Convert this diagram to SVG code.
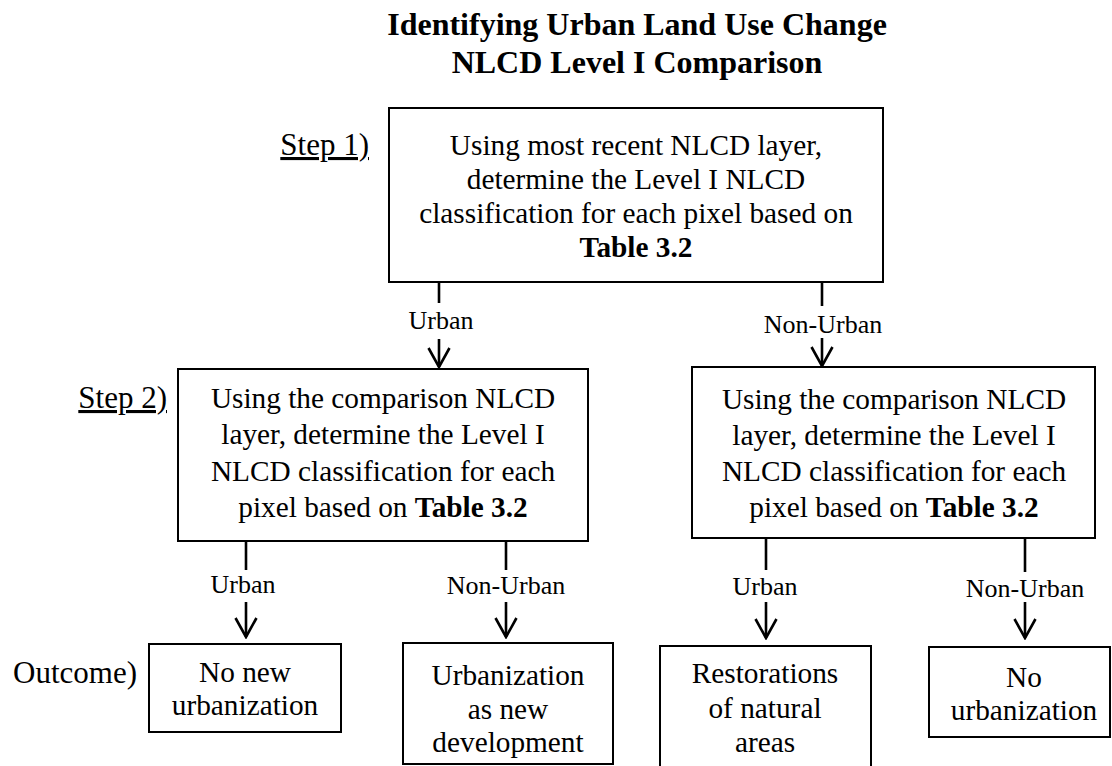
<svg xmlns="http://www.w3.org/2000/svg" width="1112" height="766" viewBox="0 0 1112 766">
  <style>
    text { font-family: "Liberation Serif", "Times New Roman", serif; fill: #000; }
    .title { font-size: 32px; font-weight: bold; text-anchor: middle; }
    .body { font-size: 29.3px; text-anchor: middle; }
    .step { font-size: 31px; }
    .lbl { font-size: 26px; text-anchor: middle; }
    .box { fill: #fff; stroke: #000; stroke-width: 2; }
    .wire { fill: none; stroke: #000; stroke-width: 2.6; }
    b, .b { font-weight: bold; }
  </style>
  <defs>
    <marker id="vhead" markerUnits="userSpaceOnUse" viewBox="-22 -13 24 26" markerWidth="24" markerHeight="26" refX="0" refY="0" orient="auto">
      <path d="M-19,-10.5 L0,0 L-19,10.5" fill="none" stroke="#000" stroke-width="2.6" stroke-linejoin="miter"/>
    </marker>
  </defs>

  <rect width="1112" height="766" fill="#fff"/>

  <g id="title">
    <text class="title" x="637" y="35">Identifying Urban Land Use Change</text>
    <text class="title" x="637" y="73">NLCD Level I Comparison</text>
  </g>

  <g id="step-labels">
    <text class="step" x="369" y="155" text-anchor="end" text-decoration="underline">Step 1)</text>
    <text class="step" x="167" y="408" text-anchor="end" text-decoration="underline">Step 2)</text>
    <text class="step" x="137" y="683" text-anchor="end">Outcome)</text>
  </g>

  <g id="step1">
    <rect class="box" x="389" y="108" width="494" height="174"/>
    <text class="body" x="636" y="155">Using most recent NLCD layer,</text>
    <text class="body" x="636" y="189">determine the Level I NLCD</text>
    <text class="body" x="636" y="223">classification for each pixel based on</text>
    <text class="body b" x="636" y="257">Table 3.2</text>
  </g>

  <g id="step2-urban">
    <rect class="box" x="178" y="369" width="410" height="172"/>
    <text class="body" x="383" y="408">Using the comparison NLCD</text>
    <text class="body" x="383" y="444">layer, determine the Level I</text>
    <text class="body" x="383" y="481">NLCD classification for each</text>
    <text class="body" x="383" y="517">pixel based on <tspan class="b">Table 3.2</tspan></text>
  </g>

  <g id="step2-nonurban">
    <rect class="box" x="692" y="367" width="403" height="171"/>
    <text class="body" x="894" y="409">Using the comparison NLCD</text>
    <text class="body" x="894" y="445">layer, determine the Level I</text>
    <text class="body" x="894" y="481">NLCD classification for each</text>
    <text class="body" x="894" y="517">pixel based on <tspan class="b">Table 3.2</tspan></text>
  </g>

  <g id="outcome-no-new">
    <rect class="box" x="149" y="644" width="192" height="88"/>
    <text class="body" x="245" y="682">No new</text>
    <text class="body" x="245" y="715">urbanization</text>
  </g>

  <g id="outcome-new-development">
    <rect class="box" x="403" y="643" width="210" height="121"/>
    <text class="body" x="508" y="685">Urbanization</text>
    <text class="body" x="508" y="719">as new</text>
    <text class="body" x="508" y="752">development</text>
  </g>

  <g id="outcome-restoration">
    <rect class="box" x="660" y="646" width="211" height="130"/>
    <text class="body" x="765" y="683">Restorations</text>
    <text class="body" x="765" y="718">of natural</text>
    <text class="body" x="765" y="752">areas</text>
  </g>

  <g id="outcome-no-urbanization">
    <rect class="box" x="929" y="647" width="181" height="90"/>
    <text class="body" x="1024" y="687">No</text>
    <text class="body" x="1024" y="720">urbanization</text>
  </g>

  <g id="connectors">
    <!-- step 1 to step 2 -->
    <path class="wire" d="M439,282 V303"/>
    <path class="wire" d="M439,339 V367" marker-end="url(#vhead)"/>
    <text class="lbl" x="441" y="329">Urban</text>
    <path class="wire" d="M822,282 V306"/>
    <path class="wire" d="M822,338 V366" marker-end="url(#vhead)"/>
    <text class="lbl" x="823" y="333">Non-Urban</text>

    <!-- step 2 (urban) to outcomes -->
    <path class="wire" d="M246,541 V570"/>
    <path class="wire" d="M246,602 V637" marker-end="url(#vhead)"/>
    <text class="lbl" x="243" y="593">Urban</text>
    <path class="wire" d="M506,541 V570"/>
    <path class="wire" d="M506,602 V637" marker-end="url(#vhead)"/>
    <text class="lbl" x="506" y="594">Non-Urban</text>

    <!-- step 2 (non-urban) to outcomes -->
    <path class="wire" d="M766,538 V570"/>
    <path class="wire" d="M766,602 V638" marker-end="url(#vhead)"/>
    <text class="lbl" x="765" y="595">Urban</text>
    <path class="wire" d="M1025,538 V572"/>
    <path class="wire" d="M1025,602 V638" marker-end="url(#vhead)"/>
    <text class="lbl" x="1025" y="597">Non-Urban</text>
  </g>
</svg>
